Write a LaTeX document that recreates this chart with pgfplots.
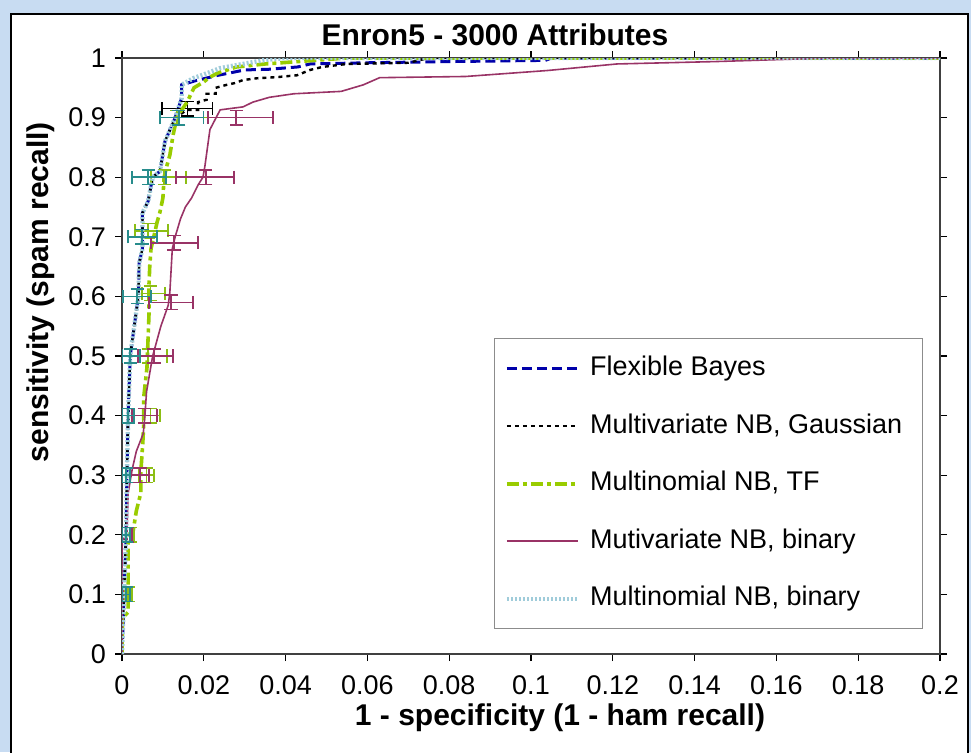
\documentclass[border=0pt]{standalone}
\usepackage{fontspec}
\setmainfont{Liberation Sans}
\usepackage{pgfplots}
\pgfplotsset{compat=1.18}

\definecolor{bgblue}{RGB}{200,220,242}
\definecolor{fbblue}{RGB}{0,0,170}
\definecolor{limeC}{RGB}{153,204,0}
\definecolor{limebar}{RGB}{140,190,20}
\definecolor{purpC}{RGB}{153,51,102}
\definecolor{lblue}{RGB}{160,204,218}
\definecolor{tealbar}{RGB}{40,140,140}

\pgfplotsset{
  ebars/.style={draw=none, no markers, forget plot,
    error bars/.cd, x dir=both, x explicit, y dir=both, y explicit,
    error bar style={draw=#1, solid, line width=0.8pt},
    error mark options={rotate=90, draw=#1, solid, line width=0.8pt, mark size=3.3pt}},
}

\begin{document}
\begin{tikzpicture}
\fill[bgblue] (0,0) rectangle (485.5pt,376pt);
\draw[black, line width=0.7pt, fill=white] (5.5pt,-3pt) rectangle (484pt,369pt);

\begin{axis}[
  at={(61pt,49pt)}, anchor=south west,
  scale only axis, width=409pt, height=298pt,
  xmin=0, xmax=0.2, ymin=0, ymax=1,
  xtick={0,0.02,0.04,0.06,0.08,0.1,0.12,0.14,0.16,0.18,0.2},
  xticklabels={0,0.02,0.04,0.06,0.08,0.1,0.12,0.14,0.16,0.18,0.2},
  ytick={0,0.1,0.2,0.3,0.4,0.5,0.6,0.7,0.8,0.9,1},
  yticklabels={0,0.1,0.2,0.3,0.4,0.5,0.6,0.7,0.8,0.9,1},
  /pgf/number format/assume math mode=true,
  tick align=outside, major tick length=3.5pt,
  tick style={black, line width=0.6pt},
  axis line style={black!75, line width=0.7pt},
  tick label style={font=\fontsize{13.5}{16}\selectfont},
  xticklabel style={yshift=-4pt},
  yticklabel style={xshift=-1pt},
  every axis title shift=0pt,
  title={Enron5 - 3000 Attributes},
  title style={at={(axis description cs:0.456,1.0386)}, anchor=center,
    font=\fontsize{15}{18}\selectfont\bfseries},
  xlabel={1 - specificity (1 - ham recall)},
  xlabel style={at={(axis description cs:0.5355,-0.107)}, anchor=center,
    font=\fontsize{15}{18}\selectfont\bfseries},
  ylabel={sensitivity (spam recall)},
  ylabel style={at={(axis description cs:-0.099,0.607)}, anchor=center,
    font=\fontsize{15}{18}\selectfont\bfseries},
  legend cell align=left,
  legend image code/.code={\draw[#1] (0pt,0pt) -- (35.5pt,0pt);},
  legend style={at={(axis description cs:0.4548,0.530)}, anchor=north west,
    draw=black!45, line width=0.6pt, fill=white,
    font=\fontsize{13.5}{16}\selectfont,
    inner xsep=5pt, inner ysep=8pt, row sep=14.75pt, column sep=0pt,
    nodes={inner xsep=5pt, inner ysep=0pt, text height=10.5pt, text depth=3.5pt}},
]

% Flexible Bayes
\addplot[fbblue, line width=1.5pt, dash pattern=on 5pt off 2.5pt] coordinates {
  (0,0) (0.0005,0.1) (0.001,0.2) (0.0012,0.3) (0.0015,0.4) (0.002,0.5)
  (0.003,0.55) (0.004,0.6) (0.0042,0.656) (0.005,0.68) (0.005,0.74)
  (0.0064,0.76) (0.0075,0.8) (0.0093,0.81) (0.0105,0.86) (0.013,0.9)
  (0.0146,0.933) (0.0146,0.955) (0.018,0.962) (0.0235,0.971) (0.030,0.98)
  (0.0357,0.981) (0.043,0.985) (0.046,0.99) (0.06,0.992) (0.08,0.994)
  (0.1035,0.996) (0.105,1) (0.2,1)};
\addlegendentry{Flexible Bayes}

% Multivariate NB, Gaussian
\addplot[black, line width=1.2pt, dash pattern=on 2pt off 2pt] coordinates {
  (0,0) (0.0005,0.1) (0.001,0.2) (0.0012,0.3) (0.0015,0.4) (0.002,0.5)
  (0.003,0.55) (0.004,0.6) (0.0042,0.656) (0.005,0.68) (0.005,0.74)
  (0.0064,0.76) (0.0075,0.8) (0.0093,0.81) (0.0105,0.86) (0.013,0.9)
  (0.0159,0.913) (0.0186,0.913) (0.0186,0.926) (0.0207,0.93) (0.0207,0.94)
  (0.0229,0.94) (0.0229,0.95) (0.0256,0.955) (0.0276,0.958) (0.0296,0.963)
  (0.033,0.966) (0.038,0.968) (0.0428,0.971) (0.046,0.98) (0.049,0.985)
  (0.055,0.99) (0.07,0.992) (0.075,1) (0.2,1)};
\addlegendentry{Multivariate NB, Gaussian}
\addplot[ebars=black] coordinates {
  (0.016,0.915) += (0.0061,0.012) -= (0.0062,0.012)};

% Multinomial NB, TF
\addplot[limeC, line width=1.8pt, dash pattern=on 6pt off 2pt on 2pt off 2pt] coordinates {
  (0,0) (0,0.06) (0.0015,0.07) (0.0015,0.2) (0.0027,0.205) (0.0035,0.24)
  (0.0046,0.27) (0.0046,0.305) (0.0051,0.356) (0.0053,0.384) (0.0053,0.43)
  (0.0061,0.48) (0.0066,0.57) (0.0066,0.62) (0.0068,0.653) (0.0071,0.68)
  (0.0086,0.725) (0.0093,0.742) (0.0100,0.765) (0.0103,0.8) (0.0110,0.82)
  (0.0117,0.837) (0.0125,0.871) (0.0134,0.9) (0.0159,0.926) (0.0176,0.95)
  (0.02,0.96) (0.0215,0.968) (0.0235,0.975) (0.028,0.985) (0.035,0.99)
  (0.045,0.995) (0.055,1) (0.2,1)};
\addlegendentry{Multinomial NB, TF}
\addplot[ebars=limebar] coordinates {
  (0.0015,0.1) += (0.001,0.012) -= (0.001,0.012)
  (0.002,0.2) += (0.001,0.012) -= (0.001,0.012)
  (0.006,0.3) += (0.0018,0.012) -= (0.002,0.012)
  (0.007,0.4) += (0.0023,0.012) -= (0.002,0.012)
  (0.0064,0.5) += (0.0046,0.012) -= (0.0024,0.012)
  (0.007,0.605) += (0.0035,0.012) -= (0.0021,0.012)
  (0.0064,0.71) += (0.0049,0.012) -= (0.0032,0.012)
  (0.0103,0.8) += (0.0053,0.012) -= (0.0032,0.012)
  (0.0134,0.9) += (0.0076,0.012) -= (0.0041,0.012)};

% Mutivariate NB, binary
\addplot[purpC, line width=0.8pt] coordinates {
  (0,0) (0,0.19) (0.0012,0.2) (0.0015,0.27) (0.0025,0.31) (0.0035,0.34)
  (0.0052,0.37) (0.0056,0.40) (0.006,0.44) (0.0075,0.5) (0.0095,0.55)
  (0.0113,0.585) (0.0117,0.607) (0.0123,0.68) (0.013,0.70) (0.0143,0.73)
  (0.0155,0.75) (0.017,0.765) (0.0186,0.787) (0.0198,0.80) (0.0203,0.82)
  (0.0215,0.88) (0.024,0.913) (0.0296,0.918) (0.032,0.926) (0.036,0.934)
  (0.042,0.94) (0.0536,0.944) (0.059,0.955) (0.063,0.967) (0.084,0.969)
  (0.094,0.974) (0.104,0.979) (0.121,0.99) (0.145,0.994) (0.173,1) (0.2,1)};
\addlegendentry{Mutivariate NB, binary}
\addplot[ebars=purpC] coordinates {
  (0.0003,0.1) += (0.0008,0.012) -= (0.0003,0.012)
  (0.0012,0.2) += (0.0012,0.012) -= (0.0012,0.012)
  (0.0044,0.3) += (0.0022,0.012) -= (0.0025,0.012)
  (0.0055,0.4) += (0.003,0.012) -= (0.003,0.012)
  (0.0078,0.5) += (0.0047,0.012) -= (0.0039,0.012)
  (0.0120,0.59) += (0.0054,0.012) -= (0.0054,0.012)
  (0.0127,0.69) += (0.0059,0.012) -= (0.0056,0.012)
  (0.0205,0.80) += (0.0069,0.012) -= (0.0073,0.012)
  (0.0279,0.90) += (0.009,0.012) -= (0.0069,0.012)};

% Multinomial NB, binary
\addplot[lblue, line width=2.2pt, dash pattern=on 1pt off 1pt] coordinates {
  (0,0) (0.0005,0.1) (0.001,0.2) (0.0012,0.3) (0.0015,0.4) (0.002,0.5)
  (0.003,0.55) (0.004,0.6) (0.0042,0.656) (0.005,0.68) (0.005,0.74)
  (0.0064,0.76) (0.0075,0.8) (0.0093,0.81) (0.0105,0.86) (0.013,0.9)
  (0.0146,0.933) (0.0146,0.955) (0.0174,0.966) (0.021,0.975) (0.024,0.983)
  (0.0296,0.99) (0.0352,0.997) (0.04,1) (0.2,1)};
\addlegendentry{Multinomial NB, binary}
\addplot[ebars=tealbar] coordinates {
  (0.001,0.1) += (0.0009,0.012) -= (0.0009,0.012)
  (0.001,0.2) += (0.0009,0.012) -= (0.0009,0.012)
  (0.001,0.3) += (0.001,0.012) -= (0.001,0.012)
  (0.0015,0.4) += (0.0015,0.012) -= (0.0015,0.012)
  (0.002,0.5) += (0.0024,0.012) -= (0.002,0.012)
  (0.0037,0.6) += (0.0034,0.012) -= (0.0035,0.012)
  (0.0049,0.7) += (0.0037,0.012) -= (0.0034,0.012)
  (0.0064,0.8) += (0.0043,0.012) -= (0.004,0.012)
  (0.0139,0.9) += (0.006,0.012) -= (0.0046,0.012)};

\end{axis}
\pgfresetboundingbox
\useasboundingbox (0,0) rectangle (485.5pt,376pt);
\end{tikzpicture}
\end{document}
